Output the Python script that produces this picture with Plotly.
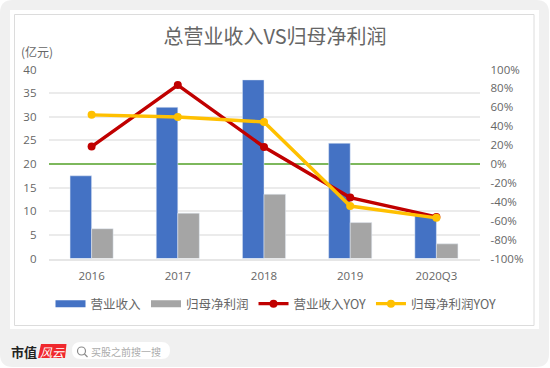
import plotly.graph_objects as go

W, H = 550, 368
categories = ["2016", "2017", "2018", "2019", "2020Q3"]
revenue = [17.5, 32.0, 37.8, 24.4, 9.2]
net_profit = [6.3, 9.6, 13.6, 7.6, 3.1]
revenue_yoy = [18.5, 83.6, 18.0, -35.5, -56.0]
profit_yoy = [52.0, 49.7, 44.5, -44.5, -57.0]
left_ticks = [0, 5, 10, 15, 20, 25, 30, 35, 40]
right_ticks = [-100, -80, -60, -40, -20, 0, 20, 40, 60, 80, 100]
right_labels = [f"{v}%" for v in right_ticks]

CJK = "Noto Sans CJK SC, Noto Sans, sans-serif"
TXT = "#666666"
TICKF = dict(size=11.5, color=TXT, family="Open Sans, sans-serif")


def px(x):
    return x / W


def py(y):
    return 1 - y / H


def rounded(x0, y0, x1, y1, r):
    return (f"M {px(x0 + r)} {py(y0)} L {px(x1 - r)} {py(y0)} "
            f"Q {px(x1)} {py(y0)} {px(x1)} {py(y0 + r)} L {px(x1)} {py(y1 - r)} "
            f"Q {px(x1)} {py(y1)} {px(x1 - r)} {py(y1)} L {px(x0 + r)} {py(y1)} "
            f"Q {px(x0)} {py(y1)} {px(x0)} {py(y1 - r)} L {px(x0)} {py(y0 + r)} "
            f"Q {px(x0)} {py(y0)} {px(x0 + r)} {py(y0)} Z")


fig = go.Figure()
fig.add_bar(x=categories, y=revenue, name="营业收入", marker_color="#4472C4", yaxis="y", showlegend=False)
fig.add_bar(x=categories, y=net_profit, name="归母净利润", marker_color="#A5A5A5", yaxis="y", showlegend=False)
# Empty line traces give the wide rectangular legend keys of the bar series.
fig.add_scatter(x=[None], y=[None], name="营业收入", mode="lines", yaxis="y",
                line=dict(color="#4472C4", width=7))
fig.add_scatter(x=[None], y=[None], name="归母净利润", mode="lines", yaxis="y",
                line=dict(color="#A5A5A5", width=7))
fig.add_scatter(x=categories, y=revenue_yoy, name="营业收入YOY", yaxis="y2", mode="lines+markers",
                line=dict(color="#C00000", width=3.4), marker=dict(color="#C00000", size=8))
fig.add_scatter(x=categories, y=profit_yoy, name="归母净利润YOY", yaxis="y2", mode="lines+markers",
                line=dict(color="#FFC000", width=3.4), marker=dict(color="#FFC000", size=8))

shapes = [
    dict(type="path", xref="paper", yref="paper", path=rounded(0, 0, 549, 367, 13),
         fillcolor="#F0F0F0", line_width=0, layer="below"),
    dict(type="rect", xref="paper", yref="paper", x0=px(10), x1=px(539), y0=py(329), y1=py(10),
         fillcolor="white", line_width=0, layer="below"),
    dict(type="rect", xref="paper", yref="paper", x0=px(14.5), x1=px(534), y0=py(325.5), y1=py(14.5),
         fillcolor="white", line=dict(color="#DCDCDC", width=1), layer="below"),
    dict(type="path", xref="paper", yref="paper", path=rounded(72, 342, 170, 359, 8.5),
         fillcolor="white", line_width=0, layer="below"),
    dict(type="circle", xref="paper", yref="paper", x0=px(77.5), x1=px(85.5), y0=py(355), y1=py(347),
         fillcolor="rgba(0,0,0,0)", line=dict(color="#8C8C8C", width=1.2)),
    dict(type="line", xref="paper", yref="paper", x0=px(84.5), x1=px(87.5), y0=py(354), y1=py(357),
         line=dict(color="#8C8C8C", width=1.2)),
    dict(type="path", xref="paper", yref="paper",
         path=f"M {px(41)} {py(344)} L {px(66.5)} {py(344)} L {px(65)} {py(358)} L {px(38)} {py(358)} Z",
         fillcolor="#F0282D", line_width=0),
]

annotations = [
    dict(text="(亿元)", x=px(37), y=py(52), font=dict(size=12, color=TXT, family=CJK)),
    dict(text="市值", x=px(24), y=py(351), font=dict(size=13, color="#222222", family=CJK, weight="bold")),
    dict(text="<i>风云</i>", x=px(52), y=py(351), font=dict(size=12, color="white", family=CJK)),
    dict(text="买股之前搜一搜", x=px(126), y=py(351), font=dict(size=10, color="#ABABAB", family=CJK)),
]
for a in annotations:
    a.update(xref="paper", yref="paper", showarrow=False, xanchor="center", yanchor="middle")

fig.update_layout(
    width=W, height=H, margin=dict(l=0, r=0, t=0, b=0, autoexpand=False), autosize=False,
    paper_bgcolor="white", plot_bgcolor="rgba(0,0,0,0)",
    barmode="group", bargap=0.5, bargroupgap=0,
    title=dict(text="总营业收入VS归母净利润", x=0.5, xanchor="center", y=py(37), yanchor="middle",
               font=dict(size=20, color=TXT, family=CJK)),
    font=dict(family=CJK, color=TXT, size=12),
    xaxis=dict(domain=[px(48.5), px(479.5)], type="category", categoryorder="array", categoryarray=categories,
               showgrid=False, showline=True, linecolor="#E6E6E6", linewidth=1.5, ticks="", anchor="y",
               tickfont=TICKF, ticklabelstandoff=6),
    yaxis=dict(domain=[py(258.5), py(69.5)], range=[0, 40], tickvals=left_ticks, showgrid=True,
               gridcolor="#EBEBEB", gridwidth=1.5, zeroline=False, showline=False, ticks="",
               tickfont=TICKF, ticklabelstandoff=11),
    yaxis2=dict(overlaying="y", side="right", range=[-100, 100], tickvals=right_ticks, ticktext=right_labels,
                showgrid=False, zeroline=True, zerolinecolor="#7DB85C", zerolinewidth=2, showline=False, ticks="",
                anchor="x", tickfont=TICKF, ticklabelstandoff=10),
    legend=dict(orientation="h", x=px(276), xanchor="center", y=py(304), yanchor="middle",
                font=dict(size=12.5, color=TXT, family=CJK), bgcolor="rgba(0,0,0,0)",
                traceorder="normal", itemwidth=30),
    shapes=shapes, annotations=annotations,
)

fig.write_html("out.html", config={"displayModeBar": False},
               post_script="document.body.style.margin='0';document.body.style.overflow='hidden';")
